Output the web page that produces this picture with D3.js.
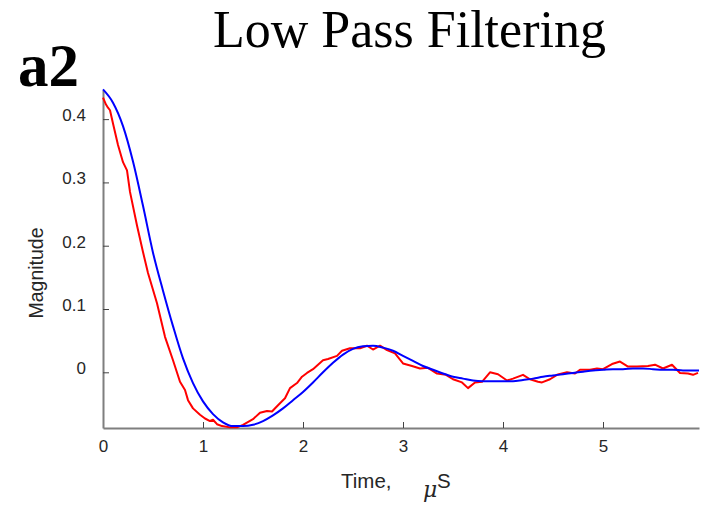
<!DOCTYPE html>
<html><head><meta charset="utf-8">
<script src="https://cdn.jsdelivr.net/npm/d3@7"></script>
<style>body{margin:0;background:#fff}svg{display:block}</style>
</head><body>
<script>
// Data
const blueT = [0,0.1,0.2,0.3,0.4,0.5,0.6,0.7,0.8,0.9,1.0,1.1,1.2,1.3,1.4,1.5,1.6,1.7,1.8,1.9,2.0,2.1,2.2,2.3,2.4,2.5,2.6,2.7,2.8,2.9,3.0,3.1,3.2,3.3,3.4,3.5,3.6,3.7,3.8,3.9,4.0,4.1,4.2,4.3,4.4,4.5,4.6,4.7,4.8,4.9,5.0,5.1,5.2,5.3,5.4,5.5,5.6,5.7,5.8,5.9,5.96];
const blueV = [0.447,0.426,0.389,0.333,0.263,0.189,0.129,0.073,0.022,-0.017,-0.046,-0.066,-0.079,-0.085,-0.085,-0.083,-0.077,-0.068,-0.057,-0.044,-0.031,-0.016,0.000,0.015,0.028,0.037,0.041,0.042,0.039,0.034,0.026,0.018,0.010,0.004,-0.002,-0.007,-0.010,-0.013,-0.014,-0.014,-0.014,-0.014,-0.012,-0.010,-0.007,-0.005,-0.003,-0.001,0.001,0.003,0.004,0.005,0.005,0.006,0.006,0.005,0.004,0.004,0.003,0.003,0.003];
const redT = [0.00,0.03,0.05,0.07,0.10,0.15,0.20,0.24,0.27,0.34,0.40,0.45,0.54,0.62,0.70,0.77,0.82,0.85,0.90,0.97,1.02,1.07,1.10,1.14,1.19,1.27,1.34,1.40,1.50,1.57,1.64,1.69,1.75,1.82,1.87,1.94,1.99,2.04,2.10,2.15,2.20,2.25,2.34,2.39,2.47,2.57,2.64,2.70,2.77,2.84,2.92,3.00,3.09,3.17,3.25,3.34,3.43,3.50,3.59,3.65,3.72,3.79,3.87,3.95,4.04,4.10,4.20,4.27,4.35,4.39,4.47,4.54,4.64,4.72,4.77,4.87,4.94,5.00,5.09,5.17,5.25,5.34,5.45,5.52,5.60,5.69,5.77,5.85,5.90,5.95];
const redV = [0.434,0.423,0.418,0.414,0.393,0.359,0.332,0.319,0.285,0.232,0.190,0.157,0.109,0.056,0.019,-0.015,-0.028,-0.044,-0.057,-0.067,-0.073,-0.077,-0.075,-0.082,-0.085,-0.087,-0.087,-0.083,-0.074,-0.064,-0.061,-0.062,-0.052,-0.041,-0.025,-0.017,-0.007,-0.001,0.005,0.012,0.019,0.021,0.026,0.034,0.038,0.038,0.042,0.036,0.042,0.035,0.030,0.014,0.010,0.006,0.007,-0.002,-0.004,-0.011,-0.016,-0.025,-0.016,-0.015,0.000,-0.003,-0.013,-0.010,-0.004,-0.011,-0.015,-0.016,-0.011,-0.004,0.000,-0.002,0.004,0.004,0.006,0.005,0.013,0.017,0.009,0.009,0.010,0.012,0.006,0.012,-0.001,-0.002,-0.004,-0.001];
const xTicks = [0,1,2,3,4,5];
const yTicks = [0,0.1,0.2,0.3,0.4];
const titleText = "Low Pass Filtering";
const panelLabel = "a2";
const yLabel = "Magnitude";

const W = 702, H = 508;
const svg = d3.select("body").append("svg").attr("width", W).attr("height", H);

const x = d3.scaleLinear().domain([0, 5.96]).range([103, 699]);
const y = d3.scaleLinear().domain([-0.088, 0.446]).range([428, 90]);

const axisFont = "'Liberation Sans', Arial, Helvetica, sans-serif";

// Axes
const gx = svg.append("g").attr("transform", `translate(0,${y.range()[0]})`)
  .call(d3.axisBottom(x).tickValues(xTicks).tickSizeInner(-6).tickSizeOuter(0).tickPadding(12).tickFormat(d3.format("d")));
const gy = svg.append("g").attr("transform", `translate(${x.range()[0]},0)`)
  .call(d3.axisLeft(y).tickValues(yTicks).tickSizeInner(-6).tickSizeOuter(0).tickPadding(17)
    .tickFormat(d => d === 0 ? "0" : d3.format(".1f")(d)));
[gx, gy].forEach(g => {
  g.select(".domain").attr("stroke", "#7f7f7f").attr("stroke-width", 2);
  g.selectAll(".tick line").attr("stroke", "#444").attr("stroke-width", 1);
  g.selectAll(".tick text").attr("fill", "#262626").attr("font-family", axisFont).attr("font-size", 17);
});
gy.selectAll(".tick text").attr("dy", "0.08em");
gx.selectAll(".tick text").attr("dy", "0.71em");

// Lines
const line = d3.line().x(d => x(d[0])).y(d => y(d[1]));
svg.append("path").datum(redT.map((t, i) => [t, redV[i]]))
  .attr("d", line).attr("fill", "none").attr("stroke", "#ff0000").attr("stroke-width", 2).attr("stroke-linejoin", "round");
svg.append("path").datum(blueT.map((t, i) => [t, blueV[i]]))
  .attr("d", d3.line().curve(d3.curveMonotoneX).x(d => x(d[0])).y(d => y(d[1])))
  .attr("fill", "none").attr("stroke", "#0000ff").attr("stroke-width", 2);

// Title and panel label
svg.append("text").attr("x", 213).attr("y", 46.5).attr("font-family", "'Liberation Serif', 'Times New Roman', serif")
  .attr("font-size", 52).attr("fill", "#000").text(titleText);
svg.append("text").attr("x", 18).attr("y", 86).attr("font-family", "'Liberation Serif', 'Times New Roman', serif")
  .attr("font-weight", "bold").attr("font-size", 61).attr("fill", "#000").text(panelLabel);

// Axis labels
svg.append("text").attr("transform", "translate(43,273) rotate(-90)").attr("text-anchor", "middle")
  .attr("font-family", axisFont).attr("font-size", 19.5).attr("fill", "#262626").text(yLabel);
svg.append("text").attr("x", 341).attr("y", 488).attr("font-family", axisFont).attr("font-size", 20.5).attr("fill", "#262626").text("Time,");
svg.append("text").attr("x", 423).attr("y", 497).attr("font-family", "'DejaVu Serif', serif").attr("font-style", "italic").attr("font-size", 22).attr("fill", "#262626").text("μ");
svg.append("text").attr("x", 437).attr("y", 488).attr("font-family", axisFont).attr("font-size", 20.5).attr("fill", "#262626").text("S");
</script>
</body></html>
